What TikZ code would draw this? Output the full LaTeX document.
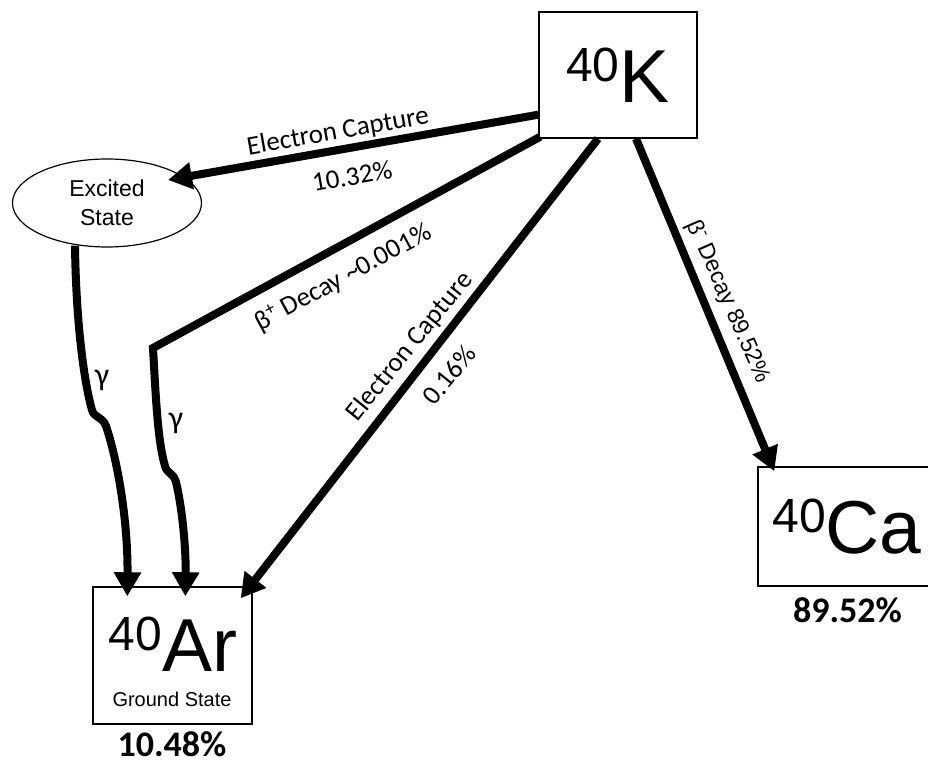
\documentclass[tikz,border=0pt]{standalone}
\usepackage{fontspec}
\setmainfont{Liberation Sans}
\newfontfamily\carl{Carlito}
\usetikzlibrary{arrows.meta,shapes.geometric,calc}
\newcommand{\nuc}[1]{{\fontsize{48}{48}\selectfont\raisebox{21pt}{40}}{\fontsize{75}{75}\selectfont #1}}
\tikzset{box/.style={draw,line width=1.4pt,inner sep=0pt},
  decay/.style={-{Triangle[length=24pt,width=26pt]},line width=8pt},
  lbl/.style={font=\carl\fontsize{27}{27}\selectfont,inner sep=1pt},
  pct/.style={font=\carl\bfseries\fontsize{36}{36}\selectfont,anchor=base}}

\begin{document}
\begin{tikzpicture}[x=1pt,y=1pt]
  \path[use as bounding box] (0,0) rectangle (928,762);
  % nuclei
  \node[box,minimum width=158,minimum height=126] (K) at (618,687) {\nuc{K}};
  \node[box,minimum width=178,minimum height=119] (Ca) at (847,235.5) {\nuc{Ca}};
  \node[box,minimum width=159,minimum height=137] (Ar) at (172.5,106.5) {};
  \node[anchor=base] (arsym) at (173,90) {\nuc{Ar}};
  \node[anchor=base,font=\fontsize{20}{20}\selectfont] (arground) at (172,55) {Ground State};
  \node[ellipse,draw,line width=1.2pt,minimum width=189,minimum height=88,align=center,
    font=\fontsize{23}{29}\selectfont] (exc) at (107,559) {Excited\\State};
  \node[pct] (arpct) at (172,5) {10.48\%};
  \node[pct] (capct) at (847.5,139) {89.52\%};
  % end points on the nodes
  \coordinate (k1) at ($(K.south west)+(0,24)$);
  \coordinate (k2) at ($(K.south west)+(2,2)$);
  \coordinate (k3) at ($(K.south)+(-20,0)$);
  \coordinate (k4) at ($(K.south)+(18,0)$);
  \coordinate (e1) at ($(exc.center)+(61,23)$);
  \coordinate (e2) at ($(exc.south)+(-32,2)$);
  \coordinate (bend) at (153,414);
  \coordinate (ar1) at ($(Ar.north west)+(35,-10)$);
  \coordinate (ar2) at ($(Ar.north west)+(93,-10)$);
  \coordinate (ar3) at ($(Ar.north east)+(-12,-12)$);
  \coordinate (ca1) at ($(Ca.north west)+(17,-5)$);
  % decays
  \draw[decay] (k1) -- (e1);
  \draw[decay] (k2) -- (bend) .. controls (156,360) and (158,320) .. (165,296)
    .. controls (167,288) and (173,290) .. (176,280)
    .. controls (183,250) and (186,210) .. (ar2);
  \draw[decay] (e2) .. controls (76,440) and (84,380) .. (92,352)
    .. controls (94,344) and (102,346) .. (106,336)
    .. controls (118,300) and (128,240) .. (ar1);
  \draw[decay] (k3) -- (ar3);
  \draw[decay] (k4) -- (ca1);
  % labels
  \node[lbl,rotate=10] (ec1) at (338,630) {Electron Capture};
  \node[lbl,rotate=10] (ec1p) at (352,586) {10.32\%};
  \node[lbl,rotate=28.4] (bplus) at (343,484) {β\textsuperscript{+} Decay \textasciitilde0.001\%};
  \node[lbl,rotate=51] (ec2) at (410,415) {Electron Capture};
  \node[lbl,rotate=51] (ec2p) at (449,387) {0.16\%};
  \node[font=\fontsize{23}{23}\selectfont,rotate=-66] (bminus) at (728,460) {β\textsuperscript{-} Decay 89.52\%};
  \node[lbl,font=\carl\fontsize{32}{32}\selectfont] (g1) at (102,382) {γ};
  \node[lbl,font=\carl\fontsize{32}{32}\selectfont] (g2) at (176,339) {γ};
\end{tikzpicture}
\end{document}
